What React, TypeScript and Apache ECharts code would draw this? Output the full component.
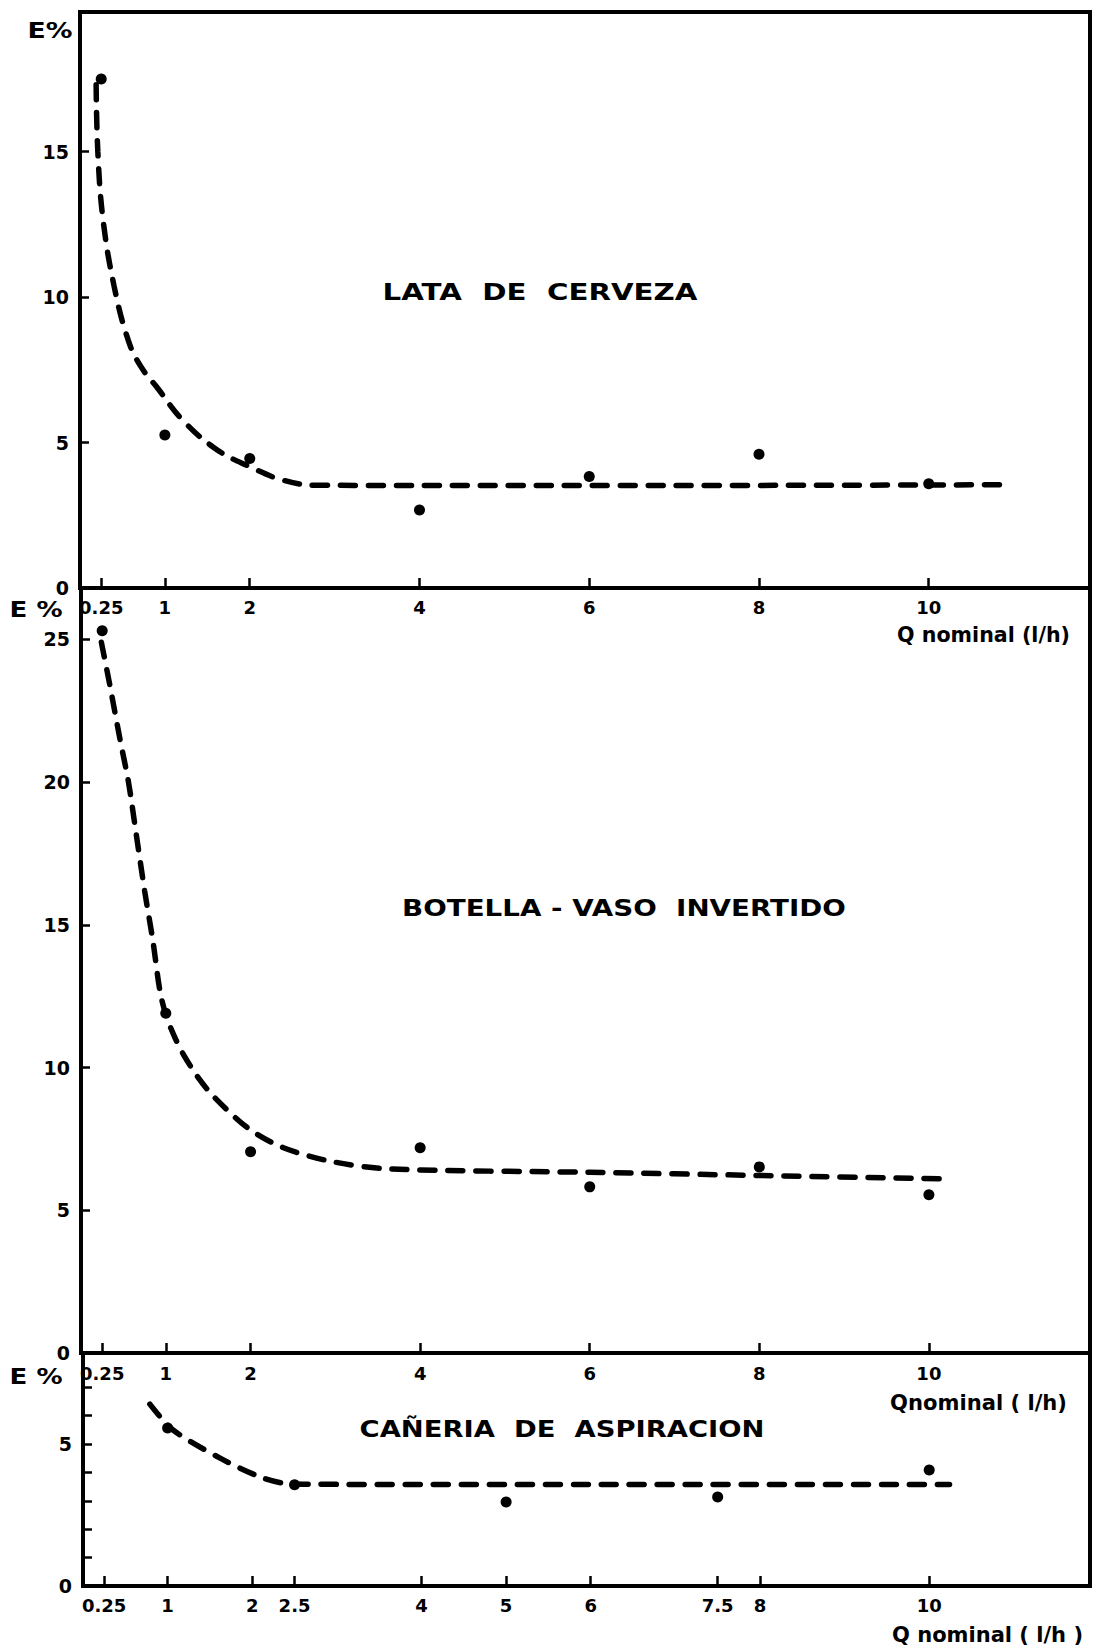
import React, { useEffect, useRef } from "react";
import * as echarts from "echarts";

// ---- Data ----
const xTicksUpper = [0.25, 1, 2, 4, 6, 8, 10];
const xTicksLower = [0.25, 1, 2, 2.5, 4, 5, 6, 7.5, 8, 10];

const y1TickValues = [5, 10, 15];
const y1LabelValues = [0, 5, 10, 15];
const y2TickValues = [5, 10, 15, 20, 25];
const y2LabelValues = [0, 5, 10, 15, 20, 25];
const y3TickValues = [1, 2, 3, 4, 5, 6, 7];
const y3LabelValues = [0, 5];

// LATA DE CERVEZA
const lataPoints = [
  [0.25, 17.5], [1, 5.26], [2, 4.45], [4, 2.68], [6, 3.83], [8, 4.6], [10, 3.58],
];
const lataCurve = [
  [0.19, 17.3], [0.21, 15.0], [0.27, 12.7], [0.4, 10.4], [0.57, 8.5], [0.72, 7.6],
  [0.92, 6.85], [1.2, 5.8], [1.6, 4.78], [2.0, 4.17], [2.4, 3.7], [2.8, 3.53],
  [6, 3.52], [10.9, 3.55],
];

// BOTELLA - VASO INVERTIDO
const botellaPoints = [
  [0.25, 25.3], [1, 11.9], [2, 7.05], [4, 7.19], [6, 5.82], [8, 6.52], [10, 5.54],
];
const botellaCurve = [
  [0.24, 24.9], [0.34, 23.4], [0.46, 21.5], [0.56, 20.0], [0.65, 18.2], [0.75, 16.2],
  [0.85, 14.4], [0.93, 12.7], [1.0, 11.85], [1.1, 11.1], [1.2, 10.5], [1.37, 9.7],
  [1.56, 9.0], [1.96, 7.9], [2.38, 7.2], [2.97, 6.7], [3.64, 6.45], [6, 6.33],
  [8, 6.22], [10.2, 6.1],
];

// CAÑERIA DE ASPIRACION
const caneriaPoints = [
  [1, 5.56], [2.5, 3.56], [5, 2.96], [7.5, 3.13], [10, 4.08],
];
const caneriaCurve = [
  [0.79, 6.4], [1.06, 5.5], [1.62, 4.5], [2.09, 3.84], [2.36, 3.62], [2.6, 3.58],
  [6, 3.57], [10.24, 3.57],
];

const FONT = '"DejaVu Sans", "Liberation Sans", sans-serif';

function measure(text: string, size: number): number {
  const c = document.createElement("canvas").getContext("2d");
  if (!c) return text.length * size * 0.6;
  c.font = `bold ${size}px "DejaVu Sans"`;
  return c.measureText(text).width;
}

function fitText(text: string, size: number, x: number, y: number, width: number, align: string) {
  const w = measure(text, size);
  return {
    type: "text",
    x,
    y,
    scaleX: width / w,
    z: 10,
    style: {
      text,
      fontSize: size,
      fontWeight: "bold",
      fontFamily: FONT,
      fill: "#000",
      align,
      verticalAlign: "middle",
      textAlign: align,
      textVerticalAlign: "middle",
    },
  };
}

const labelStyle = {
  color: "#000",
  fontSize: 18,
  fontWeight: "bold",
  fontFamily: FONT,
};

function xAxisDef(gridIndex: number, ticks: number[], margin: number) {
  return {
    type: "value",
    gridIndex,
    min: 0,
    max: 11.9,
    axisLine: { show: false },
    splitLine: { show: false },
    axisTick: {
      show: true,
      inside: true,
      length: 10,
      customValues: ticks,
      lineStyle: { color: "#000", width: 2.5 },
    },
    axisLabel: { ...labelStyle, margin, customValues: ticks },
  };
}

function yAxisDef(gridIndex: number, max: number, ticks: number[], labels: number[]) {
  return {
    type: "value",
    gridIndex,
    min: 0,
    max,
    axisLine: { show: false },
    splitLine: { show: false },
    axisTick: {
      show: true,
      inside: true,
      length: 9,
      customValues: ticks,
      lineStyle: { color: "#000", width: 2.5 },
    },
    axisLabel: { ...labelStyle, fontSize: 19, margin: 11, customValues: labels },
  };
}

const dash = { color: "#000", width: 5.5, type: [15, 13], cap: "round" };

function curveSeries(i: number, data: number[][], smooth: number) {
  return {
    type: "line",
    xAxisIndex: i,
    yAxisIndex: i,
    data,
    smooth,
    showSymbol: false,
    symbol: "none",
    lineStyle: dash,
    z: 2,
    silent: true,
  };
}

function pointSeries(i: number, data: number[][]) {
  return {
    type: "scatter",
    xAxisIndex: i,
    yAxisIndex: i,
    data,
    symbol: "circle",
    symbolSize: 11,
    itemStyle: { color: "#000", opacity: 1 },
    z: 3,
    silent: true,
  };
}

const gridBase = {
  show: true,
  borderColor: "#000",
  borderWidth: 4,
  backgroundColor: "transparent",
  containLabel: false,
};

export default function App() {
  const ref = useRef<HTMLDivElement>(null);
  useEffect(() => {
    document.body.style.margin = "0";
    const chart = echarts.init(ref.current!, null, { renderer: "svg" });
    const option = {
      animation: false,
      backgroundColor: "#fff",
      grid: [
        { ...gridBase, left: 80, top: 12, width: 1010, height: 576 },
        { ...gridBase, left: 81, top: 588, width: 1009, height: 765 },
        { ...gridBase, left: 83, top: 1353, width: 1007, height: 233 },
      ],
      xAxis: [
        xAxisDef(0, xTicksUpper, 10),
        xAxisDef(1, xTicksUpper, 11),
        xAxisDef(2, xTicksLower, 10),
      ],
      yAxis: [
        yAxisDef(0, 19.8, y1TickValues, y1LabelValues),
        yAxisDef(1, 26.8, y2TickValues, y2LabelValues),
        yAxisDef(2, 8.2, y3TickValues, y3LabelValues),
      ],
      series: [
        curveSeries(0, lataCurve, 0.4),
        pointSeries(0, lataPoints),
        curveSeries(1, botellaCurve, 0.3),
        pointSeries(1, botellaPoints),
        curveSeries(2, caneriaCurve, 0.3),
        pointSeries(2, caneriaPoints),
      ],
      graphic: [
        fitText("E%", 22, 50, 30, 45, "center"),
        fitText("E %", 22, 36, 610, 53, "center"),
        fitText("E %", 22, 36, 1377, 53, "center"),
        fitText("LATA  DE  CERVEZA", 23, 540, 292, 315, "center"),
        fitText("BOTELLA - VASO  INVERTIDO", 23, 624, 908, 444, "center"),
        fitText("CAÑERIA  DE  ASPIRACION", 23, 562, 1429, 405, "center"),
        fitText("Q nominal (l/h)", 21, 1070, 635, 173, "right"),
        fitText("Qnominal ( l/h)", 21, 1067, 1403, 177, "right"),
        fitText("Q nominal ( l/h )", 21, 1083, 1635, 191, "right"),
      ],
    };
    chart.setOption(option as any);
    return () => chart.dispose();
  }, []);
  return <div ref={ref} style={{ width: 1093, height: 1652 }} />;
}
